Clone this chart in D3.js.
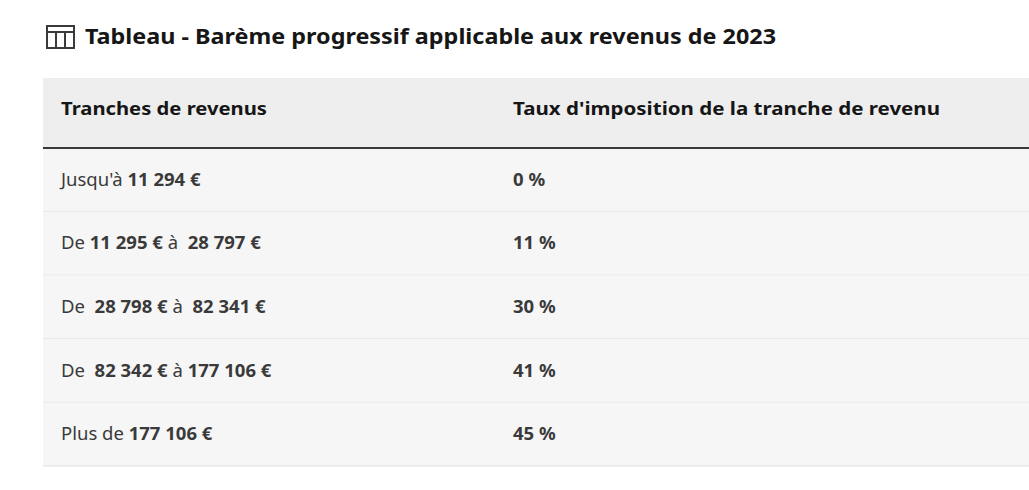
<!DOCTYPE html>
<html><head><meta charset="utf-8">
<script src="https://cdn.jsdelivr.net/npm/d3@7"></script>
<style>body{margin:0;background:#fff}text{font-family:"Noto Sans",sans-serif}</style>
</head><body><svg id="c" width="1029" height="490"></svg>
<script>
const title = "Tableau - Barème progressif applicable aux revenus de 2023";
const headers = ["Tranches de revenus", "Taux d'imposition de la tranche de revenu"];
const bracketLabels = [
  [["Jusqu'à ", 0], ["11 294 €", 1]],
  [["De ", 0], ["11 295 €", 1], [" à  ", 0], ["28 797 €", 1]],
  [["De  ", 0], ["28 798 €", 1], [" à  ", 0], ["82 341 €", 1]],
  [["De  ", 0], ["82 342 €", 1], [" à ", 0], ["177 106 €", 1]],
  [["Plus de ", 0], ["177 106 €", 1]]
];
const rates = [0, 11, 30, 41, 45];

const svg = d3.select("#c");
const ig = svg.append("g").attr("fill","none").attr("stroke","#3a3a3a").attr("stroke-width",2);
ig.append("rect").attr("x",47).attr("y",26).attr("width",27).attr("height",22);
ig.append("line").attr("x1",47).attr("x2",74).attr("y1",32).attr("y2",32);
[56,65].forEach(x=>ig.append("line").attr("x1",x).attr("x2",x).attr("y1",32).attr("y2",48));
svg.append("text").attr("x",85).attr("y",44).attr("font-size",22).attr("font-weight",700).attr("fill","#161616").attr("textLength",691).attr("lengthAdjust","spacingAndGlyphs").text(title);

const x0 = 43, x1 = 1029, colX = [61, 513];
const y = d3.scaleBand().domain(d3.range(rates.length)).range([148, 466]);
svg.append("rect").attr("x",x0).attr("y",78).attr("width",x1-x0).attr("height",70).attr("fill","#eeeeee");
const hl = [206, 427];
headers.forEach((h,i)=>svg.append("text").attr("x",colX[i]).attr("y",115).attr("font-size",18.5).attr("font-weight",700).attr("fill","#161616").attr("textLength",hl[i]).attr("lengthAdjust","spacingAndGlyphs").text(h));

const rows = svg.selectAll("g.r").data(rates).join("g").attr("class","r");
rows.append("rect").attr("x",x0).attr("y",(d,i)=>y(i)).attr("width",x1-x0).attr("height",y.bandwidth()).attr("fill","#f6f6f6");
rows.append("line").attr("x1",x0).attr("x2",x1).attr("y1",(d,i)=>y(i)+y.bandwidth()).attr("y2",(d,i)=>y(i)+y.bandwidth()).attr("stroke","#dddddd");
rows.each(function(d,i){
  const g = d3.select(this), cy = y(i)+y.bandwidth()/2+6;
  const t = g.append("text").attr("x",colX[0]).attr("y",cy).attr("font-size",18.5).attr("fill","#3a3a3a").attr("xml:space","preserve").style("white-space","pre");
  bracketLabels[i].forEach(([s,b])=>t.append("tspan").attr("font-weight",b?700:400).text(s));
  g.append("text").attr("x",colX[1]).attr("y",cy).attr("font-size",18.5).attr("font-weight",700).attr("fill","#3a3a3a").text(d+" %");
});
svg.append("line").attr("x1",x0).attr("x2",x1).attr("y1",148).attr("y2",148).attr("stroke","#3a3a3a").attr("stroke-width",2);
</script></body></html>
